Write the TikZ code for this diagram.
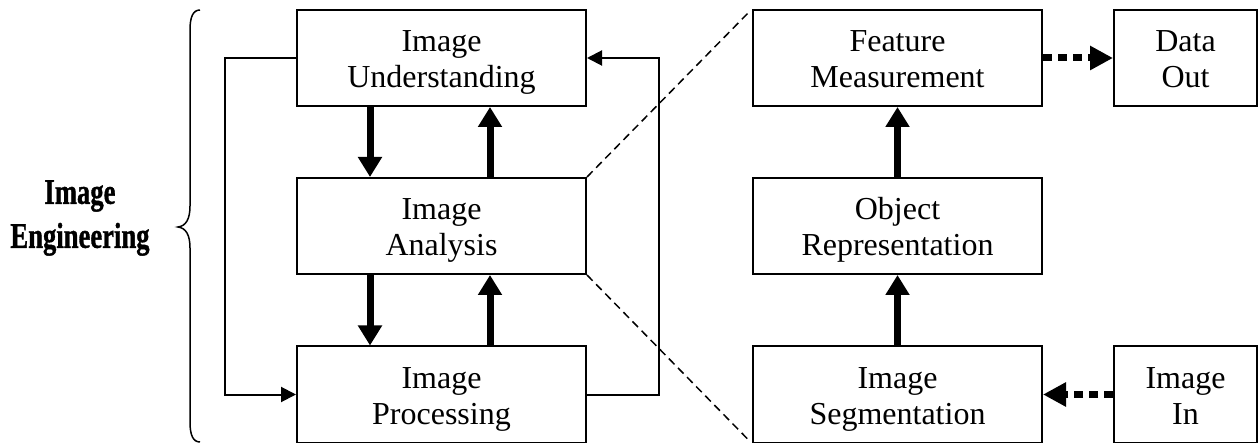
\documentclass[tikz,border=0pt]{standalone}
\usepackage{fontspec}
\usepackage{graphicx}
\setmainfont{Liberation Serif}
\newfontfamily\heavyserif{Liberation Serif Bold}[FakeBold=1.2]
\usetikzlibrary{arrows.meta}

% two centred lines with fixed extents, so every box places its text alike
\newcommand\boxtext[2]{\rule{0pt}{32pt}#1\\#2\rule[-8pt]{0pt}{8pt}}

\begin{document}
\begin{tikzpicture}[x=1pt,y=-1pt,
  box/.style={draw, line width=2pt, minimum width=289pt, minimum height=96pt,
    inner sep=0pt, align=center, font=\fontsize{32}{36}\selectfont},
  smallbox/.style={box, minimum width=143pt},
  flow/.style={line width=7pt, -{Triangle[length=20pt,width=23pt]}},
  dataflow/.style={line width=7pt, dash pattern=on 9pt off 6pt,
    -{Triangle[length=23pt,width=23pt]}},
  loopline/.style={line width=2pt, -{Triangle[length=15pt,width=15pt]}},
  zoomline/.style={line width=1.5pt, dash pattern=on 8pt off 5pt}
]
\useasboundingbox (0,0) rectangle (1258,443);

% image engineering levels
\node[box] (und)  at (441.5,58)    {\boxtext{Image}{Understanding}};
\node[box] (ana)  at (441.5,226)   {\boxtext{Image}{Analysis}};
\node[box] (proc) at (441.5,394.5) {\boxtext{Image}{Processing}};

% steps of image analysis
\node[box] (feat) at (897.5,58)    {\boxtext{Feature}{Measurement}};
\node[box] (obj)  at (897.5,226)   {\boxtext{Object}{Representation}};
\node[box] (seg)  at (897.5,394.5) {\boxtext{Image}{Segmentation}};
\node[smallbox] (out) at (1185.5,58)    {\boxtext{Data}{Out}};
\node[smallbox] (in)  at (1185.5,394.5) {\boxtext{Image}{In}};

% group label with brace
\node[align=center, font=\heavyserif\fontsize{36}{44}\selectfont] (eng) at (80,218)
  {\scalebox{0.74}[1]{Image}\\\scalebox{0.74}[1]{Engineering}};
\draw[line width=1.5pt] (200,10) .. controls (193,10) and (190,17) .. (190,30)
  -- (190,206) .. controls (190,219) and (186,226) .. (178,227)
  .. controls (186,228) and (190,235) .. (190,248)
  -- (190,422) .. controls (190,435) and (193,442) .. (200,442);

% vertical flows between levels
\draw[flow] (370,0 |- und.south) -- (370,0 |- ana.north);
\draw[flow] (490,0 |- ana.north) -- (490,0 |- und.south);
\draw[flow] (370,0 |- ana.south) -- (370,0 |- proc.north);
\draw[flow] (490,0 |- proc.north) -- (490,0 |- ana.south);

% outer feedback loops
\draw[loopline] (und.west) -- ++(-71,0) |- (proc.west);
\draw[loopline] (proc.east) -- ++(72,0) |- (und.east);

% analysis chain
\draw[flow] (seg) -- (obj);
\draw[flow] (obj) -- (feat);
\draw[dataflow] (feat) -- (out);
\draw[dataflow] (in) -- (seg);

% zoom lines
\draw[zoomline, shorten >=4pt] (ana.north east) -- (feat.north west);
\draw[zoomline, shorten >=4pt] (ana.south east) -- (seg.south west);
\end{tikzpicture}
\end{document}
